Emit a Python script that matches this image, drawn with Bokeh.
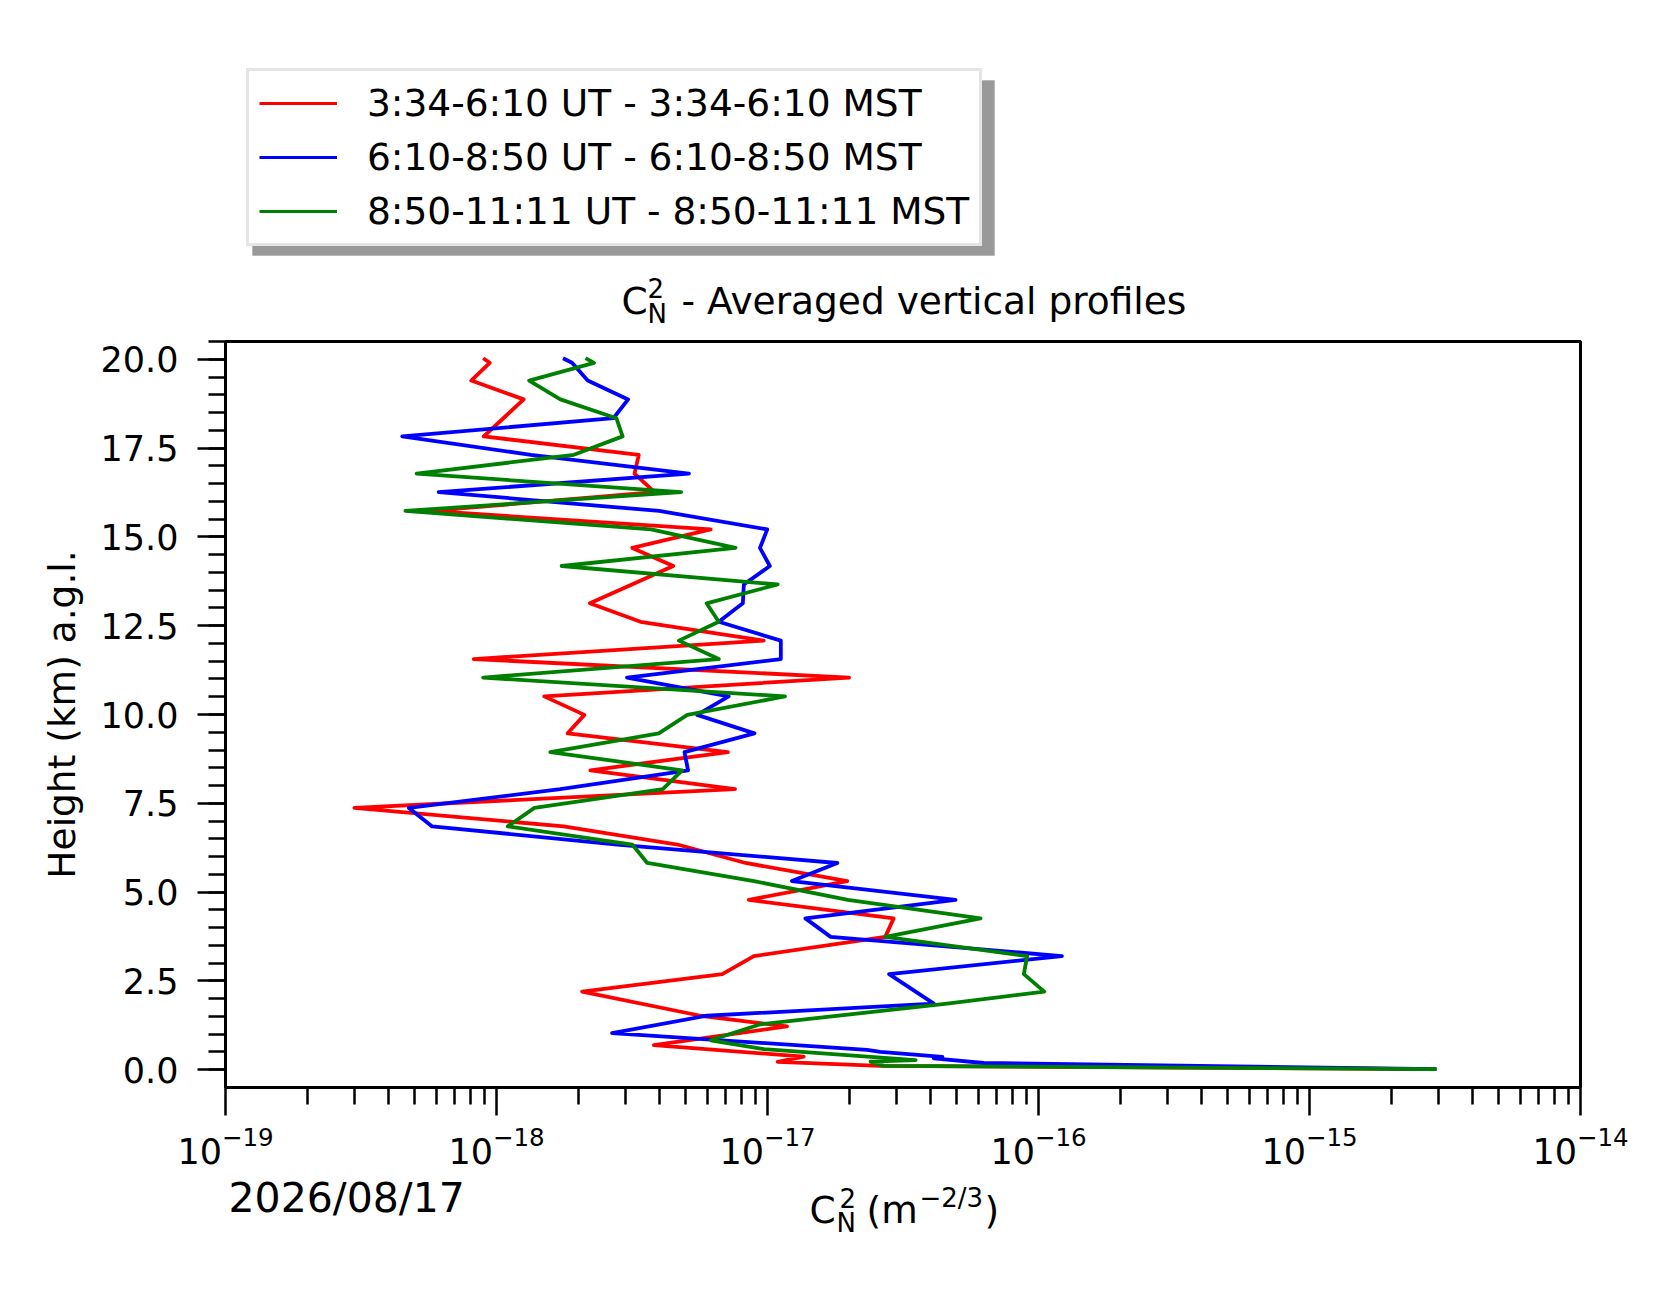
import numpy as np
from bokeh.plotting import figure
from bokeh.layouts import column
from bokeh.models import (FixedTicker, PrintfTickFormatter, Label, Legend, LegendItem,
                          BoxAnnotation, Range1d)
from bokeh.embed import file_html
from bokeh.resources import INLINE

FONT = "DejaVu Sans"

# ---------------- data ----------------
series_labels = ["3:34-6:10 UT - 3:34-6:10 MST",
                 "6:10-8:50 UT - 6:10-8:50 MST",
                 "8:50-11:11 UT - 8:50-11:11 MST"]
series_colors = ["red", "blue", "green"]

heights_red = [20.03, 19.90, 19.40, 18.87, 18.34, 17.83, 17.31, 16.78, 16.26, 15.73,
               15.21, 14.69, 14.18, 13.66, 13.13, 12.61, 12.08, 11.56, 11.04, 10.51,
               9.99, 9.47, 8.94, 8.43, 7.90, 7.37, 6.85, 6.34, 5.82, 5.31,
               4.78, 4.26, 3.74, 3.20, 2.69, 2.20, 1.52, 1.22, 0.69, 0.37,
               0.22, 0.11, 0.02]
cn2_red = [8.93e-19, 9.44e-19, 8.07e-19, 1.26e-18, 1.06e-18, 8.97e-19, 3.35e-18, 3.23e-18, 3.83e-18, 5.70e-19,
           6.17e-18, 3.17e-18, 4.49e-18, 3.16e-18, 2.21e-18, 3.40e-18, 9.68e-18, 8.24e-19, 2.00e-17, 1.50e-18,
           2.11e-18, 1.83e-18, 7.14e-18, 2.22e-18, 7.59e-18, 2.99e-19, 1.77e-18, 4.65e-18, 8.30e-18, 1.97e-17,
           8.53e-18, 2.92e-17, 2.72e-17, 8.91e-18, 6.81e-18, 2.07e-18, 5.66e-18, 1.18e-17, 3.81e-18, 1.36e-17,
           1.09e-17, 2.61e-17, 2.94e-15]

heights_blue = [20.03, 19.90, 19.40, 18.87, 18.34, 17.83, 17.31, 16.78, 16.26, 15.73,
                15.21, 14.69, 14.18, 13.66, 13.13, 12.61, 12.08, 11.56, 11.04, 10.51,
                9.99, 9.47, 8.94, 8.43, 7.90, 7.37, 6.85, 6.34, 5.82, 5.31,
                4.78, 4.26, 3.74, 3.20, 2.69, 2.20, 1.86, 1.52, 1.03, 0.56,
                0.50, 0.36, 0.32, 0.19, 0.02]
cn2_blue = [1.76e-18, 1.90e-18, 2.17e-18, 3.06e-18, 2.70e-18, 4.49e-19, 1.34e-18, 5.13e-18, 6.12e-19, 3.98e-18,
            9.98e-18, 9.38e-18, 1.02e-17, 8.18e-18, 8.11e-18, 6.61e-18, 1.12e-17, 1.12e-17, 3.03e-18, 7.19e-18,
            5.50e-18, 8.95e-18, 4.94e-18, 5.09e-18, 1.72e-18, 4.75e-19, 5.79e-19, 2.79e-18, 1.81e-17, 1.23e-17,
            4.94e-17, 1.38e-17, 1.71e-17, 1.22e-16, 2.81e-17, 3.52e-17, 4.11e-17, 5.98e-18, 2.67e-18, 2.33e-17,
            2.61e-17, 4.42e-17, 4.11e-17, 6.28e-17, 2.94e-15]

heights_green = [20.03, 19.90, 19.40, 18.87, 18.34, 17.83, 17.31, 16.78, 16.26, 15.73,
                 15.21, 14.69, 14.18, 13.66, 13.13, 12.61, 12.08, 11.56, 11.04, 10.51,
                 9.99, 9.47, 8.94, 8.43, 7.90, 7.37, 6.85, 6.34, 5.82, 5.31,
                 4.78, 4.26, 3.74, 3.20, 2.69, 2.20, 1.86, 1.28, 0.83, 0.58,
                 0.27, 0.23, 0.11, 0.02]
cn2_green = [2.13e-18, 2.29e-18, 1.32e-18, 1.72e-18, 2.77e-18, 2.92e-18, 1.93e-18, 5.07e-19, 4.80e-18, 4.61e-19,
             3.72e-18, 7.62e-18, 1.74e-18, 1.09e-17, 5.96e-18, 6.61e-18, 4.71e-18, 6.61e-18, 8.93e-19, 1.16e-17,
             5.06e-18, 3.97e-18, 1.58e-18, 4.84e-18, 4.11e-18, 1.38e-18, 1.10e-18, 3.17e-18, 3.60e-18, 8.91e-18,
             1.98e-17, 6.11e-17, 2.72e-17, 9.08e-17, 8.83e-17, 1.05e-16, 4.60e-17, 9.42e-18, 6.17e-18, 9.70e-18,
             3.52e-17, 2.40e-17, 2.69e-17, 2.94e-15]

y_major_ticks = [0.0, 2.5, 5.0, 7.5, 10.0, 12.5, 15.0, 17.5, 20.0]
y_minor_ticks = [0.5 * k for k in range(0, 42)]
x_major_ticks = [1e-19, 1e-18, 1e-17, 1e-16, 1e-15, 1e-14]
x_minor_ticks = [m * 10.0 ** e for e in range(-19, -14) for m in range(2, 10)]

title_text = "- Averaged vertical profiles"
ylabel_text = "Height (km) a.g.l."
date_text = "2026/08/17"

# ---------------- layout constants (pixels) ----------------
LEFT = 225
FRAME_W = 1355
RIGHT = 90
TOP_H = 339
MAIN_TOP = 2
FRAME_H = 746
MAIN_BOTTOM = 96
OVERLAP = 14
BOT_H = 124
LW = 3.8


def blank_fig(h):
    f = figure(frame_width=FRAME_W, frame_height=h,
               x_range=Range1d(LEFT, LEFT + FRAME_W), y_range=Range1d(h, 0),
               output_backend="svg", toolbar_location=None,
               x_axis_location=None, y_axis_location=None,
               min_border_left=LEFT, min_border_right=RIGHT,
               min_border_top=0, min_border_bottom=0)
    f.outline_line_color = None
    f.xgrid.visible = False
    f.ygrid.visible = False
    f.background_fill_color = "white"
    f.border_fill_color = "white"
    return f


def lab(fig, text, x, y, size):
    # y is the intended text baseline (page pixels inside the strip)
    fig.add_layout(Label(x=x, y=y - 0.4 * size, text=text, text_font=FONT,
                         text_font_size=f"{size}px", text_color="black",
                         text_align="left", text_baseline="alphabetic"))


# ---------------- top strip: legend + title ----------------
top = blank_fig(TOP_H)
shadow = BoxAnnotation(left=252, right=994, top=80, bottom=255,
                       fill_color="#999999", fill_alpha=1.0,
                       line_color="#8a8a8a", line_width=1, level="underlay")
top.add_layout(shadow)
nan2 = np.array([np.nan, np.nan])
leg_renderers = [top.line(x=nan2, y=nan2, line_color=c, line_width=3.2) for c in series_colors]
legend = Legend(items=[LegendItem(label=series_labels[i], renderers=[leg_renderers[i]]) for i in range(3)],
                location=(246 - LEFT, TOP_H - 246))
legend.label_text_font = FONT
legend.label_text_font_size = "37.5px"
legend.label_text_color = "black"
legend.glyph_width = 78
legend.glyph_height = 40
legend.label_standoff = 30
legend.padding = 10
legend.spacing = 10
legend.margin = 0
legend.border_line_color = "#cccccc"
legend.border_line_width = 3
legend.background_fill_color = "white"
legend.background_fill_alpha = 1.0
top.add_layout(legend)

lab(top, "C", 621, 315, 37.5)
lab(top, "2", 647, 298, 26)
lab(top, "N", 647, 324, 26)
lab(top, title_text, 681, 315, 37.5)

# ---------------- main plot ----------------
p = figure(frame_width=FRAME_W, frame_height=FRAME_H, x_axis_type="log",
           x_range=Range1d(1e-19, 1e-14), y_range=Range1d(-0.5, 20.5),
           output_backend="svg", toolbar_location=None,
           min_border_left=LEFT, min_border_right=RIGHT,
           min_border_top=MAIN_TOP, min_border_bottom=MAIN_BOTTOM)
p.background_fill_color = "white"
p.border_fill_color = "white"
p.xgrid.visible = False
p.ygrid.visible = False
p.outline_line_color = "black"
p.outline_line_width = 3
p.outline_line_alpha = 1.0

renderers = []
for hs, vs, col in [(heights_red, cn2_red, series_colors[0]),
                    (heights_blue, cn2_blue, series_colors[1]),
                    (heights_green, cn2_green, series_colors[2])]:
    renderers.append(p.line(vs, hs, line_color=col, line_width=LW, line_join="round"))

for ax in (p.xaxis[0], p.yaxis[0]):
    ax.axis_line_width = 3
    ax.axis_line_color = "black"
    ax.major_tick_line_width = 2.5
    ax.minor_tick_line_width = 2.5
    ax.major_tick_line_color = "black"
    ax.minor_tick_line_color = "black"
    ax.major_tick_out = 28
    ax.major_tick_in = 0
    ax.minor_tick_out = 17
    ax.minor_tick_in = 0
    ax.major_label_text_font = FONT
    ax.major_label_text_font_size = "35px"
    ax.major_label_text_color = "black"

p.xaxis.ticker = FixedTicker(ticks=x_major_ticks, minor_ticks=x_minor_ticks)
p.xaxis.major_label_standoff = 10
p.yaxis.ticker = FixedTicker(ticks=y_major_ticks, minor_ticks=y_minor_ticks)
p.yaxis.formatter = PrintfTickFormatter(format="%.1f")
p.yaxis.major_label_standoff = 19
p.yaxis.axis_label = ylabel_text
p.yaxis.axis_label_text_font = FONT
p.yaxis.axis_label_text_font_size = "37.5px"
p.yaxis.axis_label_text_font_style = "normal"
p.yaxis.axis_label_text_color = "black"
p.yaxis.axis_label_standoff = 14

# ---------------- bottom strip: x label + date ----------------
bot = blank_fig(BOT_H)
bot.margin = (-OVERLAP, 0, 0, 0)
Y0 = TOP_H + MAIN_TOP + FRAME_H + MAIN_BOTTOM - OVERLAP
lab(bot, "C", 809, 1224 - Y0, 37.5)
lab(bot, "2", 839, 1208 - Y0, 26)
lab(bot, "N", 836, 1233 - Y0, 26)
lab(bot, "(m", 866, 1224 - Y0, 37.5)
lab(bot, "\u22122/3", 919, 1208 - Y0, 26)
lab(bot, ")", 984, 1224 - Y0, 37.5)
lab(bot, date_text, 228, 1214 - Y0, 41)

layout = column(top, p, bot, spacing=0)
open("out.html", "w").write(file_html(layout, INLINE))
